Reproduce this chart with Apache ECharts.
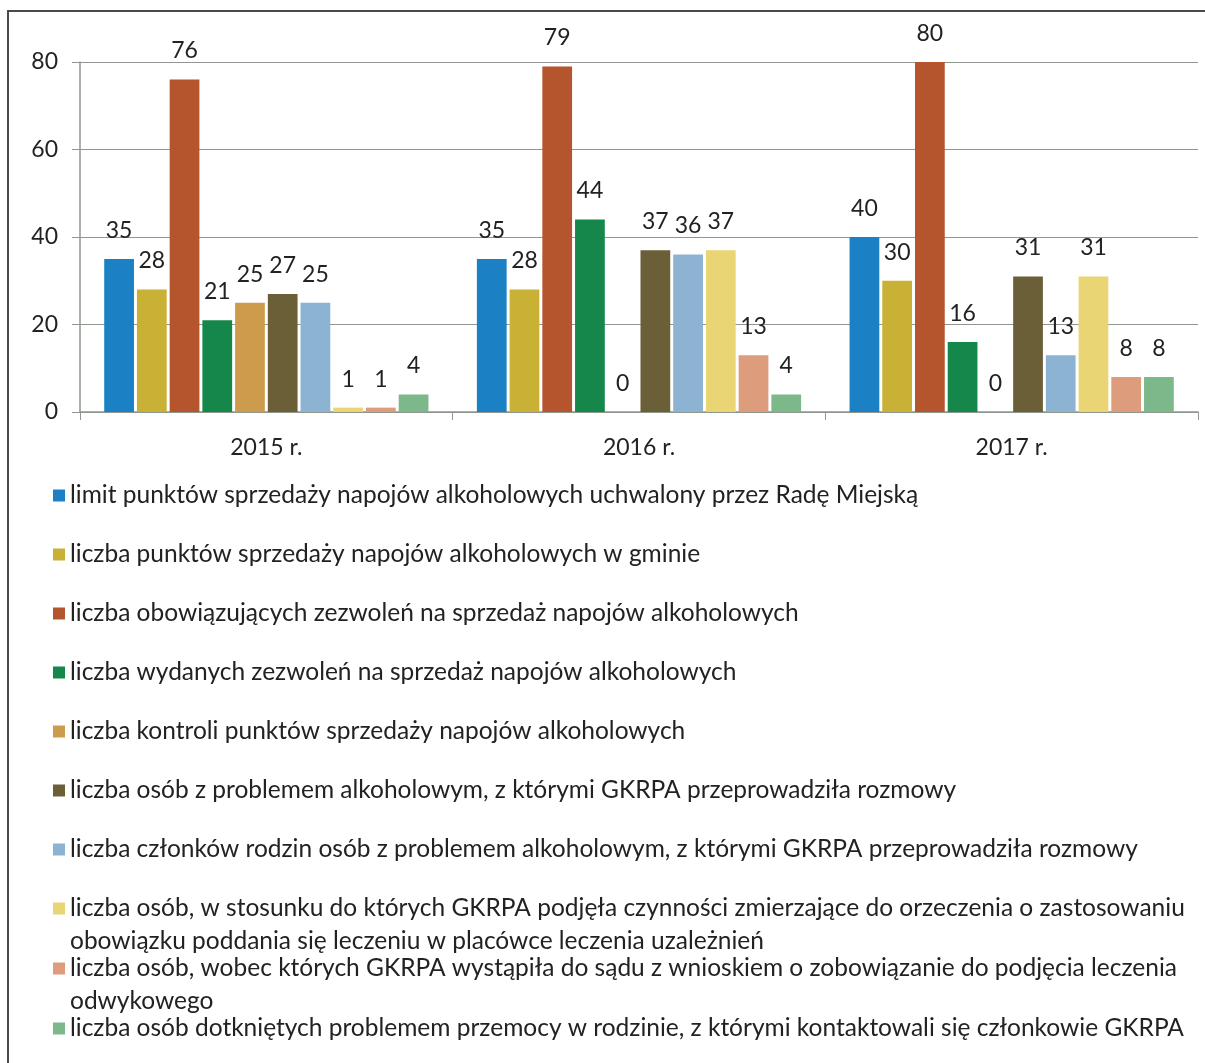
<!DOCTYPE html>
<html>
<head>
<meta charset="utf-8">
<script src="https://cdn.jsdelivr.net/npm/echarts@6/dist/echarts.min.js"></script>
</head>
<body style="margin:0;background:#fff">
<div id="container" style="width:1205px;height:1063px"></div>
<script>
// years on the x axis
var years = ['2015 r.', '2016 r.', '2017 r.'];

// series names (legend order)
var names = [
  'limit punktów sprzedaży napojów alkoholowych uchwalony przez Radę Miejską',
  'liczba punktów sprzedaży napojów alkoholowych w gminie',
  'liczba obowiązujących zezwoleń na sprzedaż napojów alkoholowych',
  'liczba wydanych zezwoleń na sprzedaż napojów alkoholowych',
  'liczba kontroli punktów sprzedaży napojów alkoholowych',
  'liczba osób z problemem alkoholowym, z którymi GKRPA przeprowadziła rozmowy',
  'liczba członków rodzin osób z problemem alkoholowym, z którymi GKRPA przeprowadziła rozmowy',
  'liczba osób, w stosunku do których GKRPA podjęła czynności zmierzające do orzeczenia o zastosowaniu obowiązku poddania się leczeniu w placówce leczenia uzależnień',
  'liczba osób, wobec których GKRPA wystąpiła do sądu z wnioskiem o zobowiązanie do podjęcia leczenia odwykowego',
  'liczba osób dotkniętych problemem przemocy w rodzinie, z którymi kontaktowali się członkowie GKRPA'
];

// values per series, 2015 / 2016 / 2017
var limitPunktow = [35, 35, 40];
var punktySprzedazy = [28, 28, 30];
var obowiazujaceZezwolenia = [76, 79, 80];
var wydaneZezwolenia = [21, 44, 16];
var kontrole = [25, 0, 0];
var osobyZProblemem = [27, 37, 31];
var czlonkowieRodzin = [25, 36, 13];
var czynnosciLeczenie = [1, 37, 31];
var wnioskiDoSadu = [1, 13, 8];
var przemoc = [4, 4, 8];

var values = [limitPunktow, punktySprzedazy, obowiazujaceZezwolenia, wydaneZezwolenia, kontrole,
  osobyZProblemem, czlonkowieRodzin, czynnosciLeczenie, wnioskiDoSadu, przemoc];

// y axis ticks
var yMin = 0, yMax = 80, yStep = 20;

var colors = ['#1b80c4', '#c8b134', '#b4552e', '#15874a', '#cc9c4c',
  '#6b5f37', '#8db3d3', '#ead574', '#dd9c7c', '#7db88a'];

var font = 'Lato';
var textCol = '#222';

var series = names.map(function (n, i) {
  return {
    name: n,
    type: 'bar',
    data: values[i],
    barGap: '10%',
    barCategoryGap: '13%',
    itemStyle: { color: colors[i] },
    label: {
      show: true,
      position: 'top',
      distance: 17,
      fontFamily: font,
      fontSize: 23,
      color: textCol
    }
  };
});

// long legend entries break onto a second line; a leading blank line keeps
// the first line level with the icon
function wrapLegend(name) {
  var cut = name.indexOf(' obowiązku');
  if (cut < 0) cut = name.indexOf(' odwykowego');
  if (cut < 0) return name;
  return '\n' + name.slice(0, cut) + '\n' + name.slice(cut + 1);
}

function legendBox(items, top) {
  return {
    data: items,
    orient: 'vertical',
    left: 48,
    top: top,
    itemGap: 26,
    itemWidth: 12,
    itemHeight: 12,
    icon: 'rect',
    selectedMode: false,
    formatter: wrapLegend,
    textStyle: { fontFamily: font, fontSize: 24.5, lineHeight: 33, color: textCol }
  };
}

var chart = echarts.init(document.getElementById('container'));
chart.setOption({
  animation: false,
  color: colors,
  grid: { left: 80, right: 7, top: 62, bottom: 651 },
  graphic: [{
    type: 'rect',
    shape: { x: 8, y: 11, width: 1220, height: 1080 },
    style: { fill: null, stroke: '#4a4a4a', lineWidth: 2 },
    silent: true
  }],
  legend: [
    legendBox(names.slice(0, 7), 474),
    legendBox([names[7]], 854),
    legendBox([names[8]], 914),
    legendBox([names[9]], 1007)
  ],
  xAxis: {
    type: 'category',
    data: years,
    axisLine: { lineStyle: { color: '#8f978f', width: 1.5 } },
    axisTick: { show: true, length: 8, lineStyle: { color: '#8f978f' } },
    axisLabel: { fontFamily: font, fontSize: 23, color: textCol, margin: 24 }
  },
  yAxis: {
    type: 'value',
    min: yMin,
    max: yMax,
    interval: yStep,
    axisLine: { show: true, lineStyle: { color: '#8f978f', width: 1.5 } },
    axisTick: { show: true, length: 8, lineStyle: { color: '#8f978f' } },
    splitLine: { lineStyle: { color: '#8f978f', width: 1.2 } },
    axisLabel: { fontFamily: font, fontSize: 23, color: textCol, margin: 22 }
  },
  series: series
});
</script>
</body>
</html>
